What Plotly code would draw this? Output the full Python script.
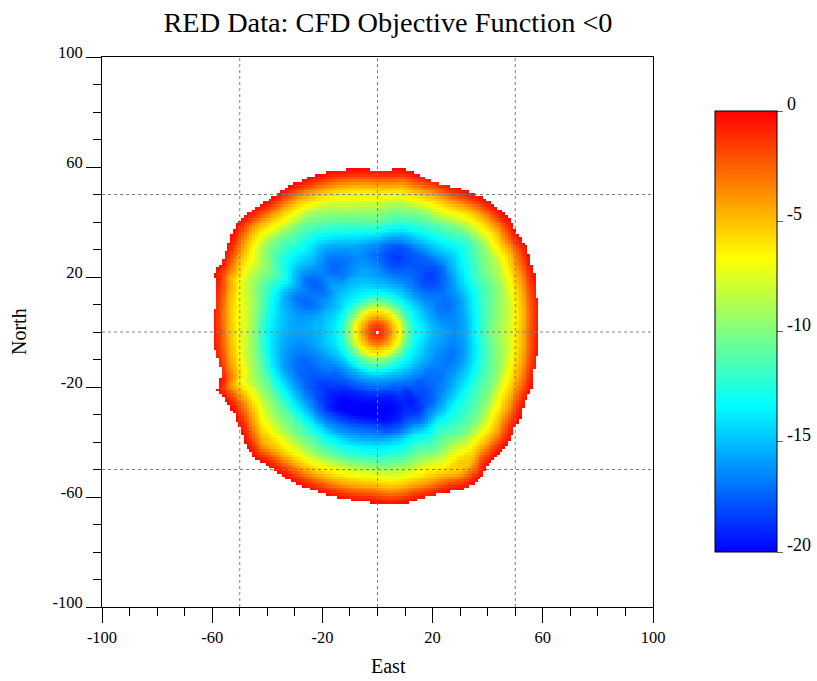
import numpy as np
import plotly.graph_objects as go

# Outer edge of the region: radius read every 5 degrees, counter-clockwise from East
edge_radius = [58.8,58.7,59,59.8,60.8,61.4,62.5,62.3,63.2,62.9,62.5,61.4,60.2,58.7,58.3,59.2,60,59.2,
               58.7,59.4,60,60.6,61,61.5,61.9,62.1,62.3,63.3,64.5,64,62.8,61.8,63,60.4,59.5,60,
               59.7,59.9,58.5,58.4,62,60.3,59.7,61,62.6,64,62.8,62.5,62.4,62.2,61.9,61.7,61.8,61.7,
               62.4,63.2,63.2,62.4,62.7,63.8,65.5,65.3,62.8,62.5,62.4,61,60.5,58.9,59.9,58.7,58.6,58.7]

# Overall outline without the small jags, read every 30 degrees
body_angle = [0,30,60,90,120,150,180,210,240,270,300,330]
body_radius = [59,62,60,59,62,63,60,60,62.5,62,64,60]

# Values near the centre, depending on radius only
core_radius = [0, 2, 4, 6, 8, 10, 12, 14]
core_value = [-0.5, -1.5, -3, -5, -6.5, -9.5, -11.5, -13.2]

# Values through the trough: rows every 15 degrees, columns at ring_radius
ring_radius = [16, 20, 24, 28, 32, 36, 40, 44, 48, 52, 56]
ring_angle = [0,15,30,45,60,75,90,105,120,135,150,165,180,195,210,225,240,255,270,285,300,315,330,345]
ring_value = [
    [-13.5,-15,-16,-16.5,-15.8,-13.5,-11,-9.5,-8,-6.5,-5],
    [-14,-15.5,-16.5,-16.5,-15.5,-13.5,-11.5,-10,-8.5,-7,-5],
    [-14,-16,-17,-17.3,-16.3,-14.5,-12.5,-11,-9.5,-8,-6.5],
    [-14.5,-16.5,-17.8,-18.3,-17.5,-15.5,-14,-12.5,-11,-9.5,-6.5],
    [-14.5,-16.3,-17.5,-18,-17.6,-15.5,-13.5,-11.5,-9.5,-7.5,-5],
    [-14.5,-16.3,-17.8,-18.5,-17.8,-15.3,-12.5,-10.5,-8.5,-6.8,-5],
    [-14.5,-15.8,-16.8,-17.5,-16.5,-13.5,-11,-9.5,-7.5,-6,-4.5],
    [-14,-15.2,-16,-16.5,-15.8,-14,-11.8,-10,-8,-6.5,-5],
    [-14,-15.2,-16.3,-17,-16.3,-15,-13,-11,-9.5,-8,-6],
    [-14,-15.2,-16.3,-17,-16.5,-15.2,-14,-12.5,-11,-9.5,-6.5],
    [-14.5,-15.7,-16.8,-17.3,-16.8,-14.8,-12.5,-11,-9.5,-7.5,-5.5],
    [-14,-15,-16,-16.5,-16,-15,-13,-10.5,-8.5,-6.8,-5],
    [-14,-15,-15.8,-16,-15.8,-15,-13.5,-10.5,-8,-6.5,-5],
    [-14,-15,-16,-16.7,-16.5,-15.5,-13.5,-10.5,-8.5,-7,-5],
    [-14.5,-16,-17,-17.8,-17.5,-16,-13.5,-11,-9,-7.5,-5.5],
    [-15,-17,-18.3,-19,-18.3,-16.5,-14.2,-11.5,-10,-7.5,-5.5],
    [-15,-17.2,-19,-19.8,-19.6,-17.8,-14.5,-12,-10,-7.5,-5.5],
    [-15,-17.3,-19.2,-20,-19.7,-18,-14.8,-12.5,-10.3,-7.5,-5.5],
    [-15,-17.3,-19.2,-20,-19.7,-17.8,-14.5,-12.5,-10.3,-7.5,-5.5],
    [-15,-17.2,-19,-19.6,-19,-17.2,-14,-12,-10,-7.5,-5.5],
    [-14.5,-16.5,-18.3,-19,-18.5,-16.5,-13.5,-11.5,-10,-7.5,-5.5],
    [-14,-16,-17,-17,-16.3,-14.5,-12.5,-11.5,-10,-7.5,-5.5],
    [-14,-15.5,-16.3,-16.5,-15.5,-14,-12,-10.5,-9,-7,-5],
    [-14,-15.5,-16,-16.8,-16,-14,-11.8,-10,-8.5,-7,-5],
]

# Narrow radial streaks: offset at these angles
streak_angle = [0,20,30,47,55,65,80,90,100,123,133,143,150,158,170,176,200,215,228,245,260,282,290,296,303,310,341,360]
streak_value = [0.3,-0.3,0.3,-0.2,0.2,0.2,-0.2,0.2,0.3,-0.5,0.4,-0.5,0.4,-0.5,0.4,0.4,-0.2,0.4,0.4,-0.2,-0.2,-0.3,0.3,-0.3,0.3,-0.3,-0.3,0.3]

# Values against distance inward from the overall outline
edge_depth = [0, 2, 4, 6, 8, 10, 12, 14, 16, 20, 26, 40]
edge_value = [-0.2, -1.2, -2.8, -4.5, -5.8, -7, -8.5, -10, -11.5, -14, -17, -25]

grid_axis = list(range(-68, 69))
grid_lines = [-50, 0, 50]
major_ticks = [-100, -60, -20, 20, 60, 100]
bar_ticks = [0, -5, -10, -15, -20]
colours = [[0, "#0000ff"], [1/3, "#00ffff"], [2/3, "#ffff00"], [1, "#ff0000"]]

W, H = 817, 681
L, R, T, B = 102, 653, 57, 607
BAR_TOP, BAR_BOTTOM = 111, 552

# Put the polar readings on the cartesian cells of the heatmap
gx, gy = np.meshgrid(grid_axis, grid_axis)
rad = np.hypot(gx, gy)
ang = np.degrees(np.arctan2(gy, gx)) % 360

edge_ang = np.arange(len(edge_radius)) * 5.0
edge_at = np.interp(ang, np.r_[edge_ang, 360], np.r_[edge_radius, edge_radius[0]])
body_at = np.interp(ang, np.r_[body_angle, 360], np.r_[body_radius, body_radius[0]])
streak_at = np.interp(ang, streak_angle, streak_value)

ring = np.array(ring_value)
ring_closed = np.vstack([ring, ring[:1]])
ang_closed = np.r_[ring_angle, 360]
z = np.empty(gx.shape)
for i in range(gx.shape[0]):
    for j in range(gx.shape[1]):
        r, a = rad[i, j], ang[i, j]
        profile = [np.interp(a, ang_closed, ring_closed[:, k]) for k in range(len(ring_radius))]
        v = np.interp(r, core_radius + ring_radius, core_value + profile)
        if r > 22:
            v += streak_at[i, j]
        d = max(body_at[i, j], edge_at[i, j]) - r
        z[i, j] = min(-0.1, max(v, np.interp(d, edge_depth, edge_value)))
z[rad > edge_at] = np.nan
z[rad < 0.5] = np.nan

fig = go.Figure()
fig.add_trace(go.Heatmap(
    x=grid_axis, y=grid_axis, z=z, zmin=-20, zmax=0, colorscale=colours, hoverongaps=False,
    colorbar=dict(
        x=(715 - L) / (R - L), xanchor="left", xpad=0,
        y=(B - BAR_TOP) / (B - T), yanchor="top", ypad=0,
        lenmode="pixels", len=BAR_BOTTOM - BAR_TOP, thicknessmode="pixels", thickness=62,
        outlinecolor="#000000", outlinewidth=1,
        tickmode="array", tickvals=bar_ticks, ticktext=["" for t in bar_ticks],
        ticks="outside", ticklen=6, tickcolor="#666666",
    ),
))

for g in grid_lines:
    for xs, ys in (([g, g], [-100, 100]), ([-100, 100], [g, g])):
        fig.add_trace(go.Scatter(x=xs, y=ys, mode="lines", showlegend=False, hoverinfo="skip",
                                 line=dict(color="#808080", width=1, dash="dot")))

serif = "Liberation Serif"
axis = dict(
    range=[-100, 100], tickmode="array", tickvals=major_ticks, ticktext=[str(t) for t in major_ticks],
    ticks="outside", ticklen=15, tickwidth=1, tickcolor="#000000",
    minor=dict(ticks="outside", ticklen=8, tickwidth=1, tickcolor="#000000", dtick=10, tick0=0, showgrid=False),
    showgrid=False, zeroline=False, showline=True, linecolor="#000000", linewidth=1, mirror=True,
    tickfont=dict(family=serif, size=16.5, color="#000000"),
)
notes = [
    dict(text="East", xref="paper", yref="paper", x=(388 - L) / (R - L), y=-(666 - B) / (B - T),
         showarrow=False, xanchor="center", yanchor="middle",
         font=dict(family=serif, size=20, color="#000000")),
    dict(text="North", xref="paper", yref="paper", x=-(102 - 19) / (R - L), y=0.5, textangle=-90,
         showarrow=False, xanchor="center", yanchor="middle",
         font=dict(family=serif, size=20, color="#000000")),
]
for t in bar_ticks:
    py = BAR_TOP + (BAR_BOTTOM - BAR_TOP) * (-t) / 20 - 7
    notes.append(dict(text=str(t), xref="paper", yref="paper", x=(785 - L) / (R - L), y=(B - py) / (B - T),
                      showarrow=False, xanchor="left", yanchor="middle",
                      font=dict(family=serif, size=18, color="#000000")))

fig.update_layout(
    width=W, height=H, margin=dict(l=L, r=W - R, t=T, b=H - B),
    paper_bgcolor="#ffffff", plot_bgcolor="#ffffff", showlegend=False,
    xaxis=dict(axis),
    yaxis=dict(axis, ticklabelshift=-5),
    title=dict(text="RED Data: CFD Objective Function &lt;0", x=388 / W, xanchor="center",
               y=1 - 22 / H, yanchor="middle",
               font=dict(family=serif, size=28.3, color="#000000")),
    annotations=notes,
)
fig.write_html("out.html", post_script="document.body.style.margin='0';",
               config={"displayModeBar": False})
